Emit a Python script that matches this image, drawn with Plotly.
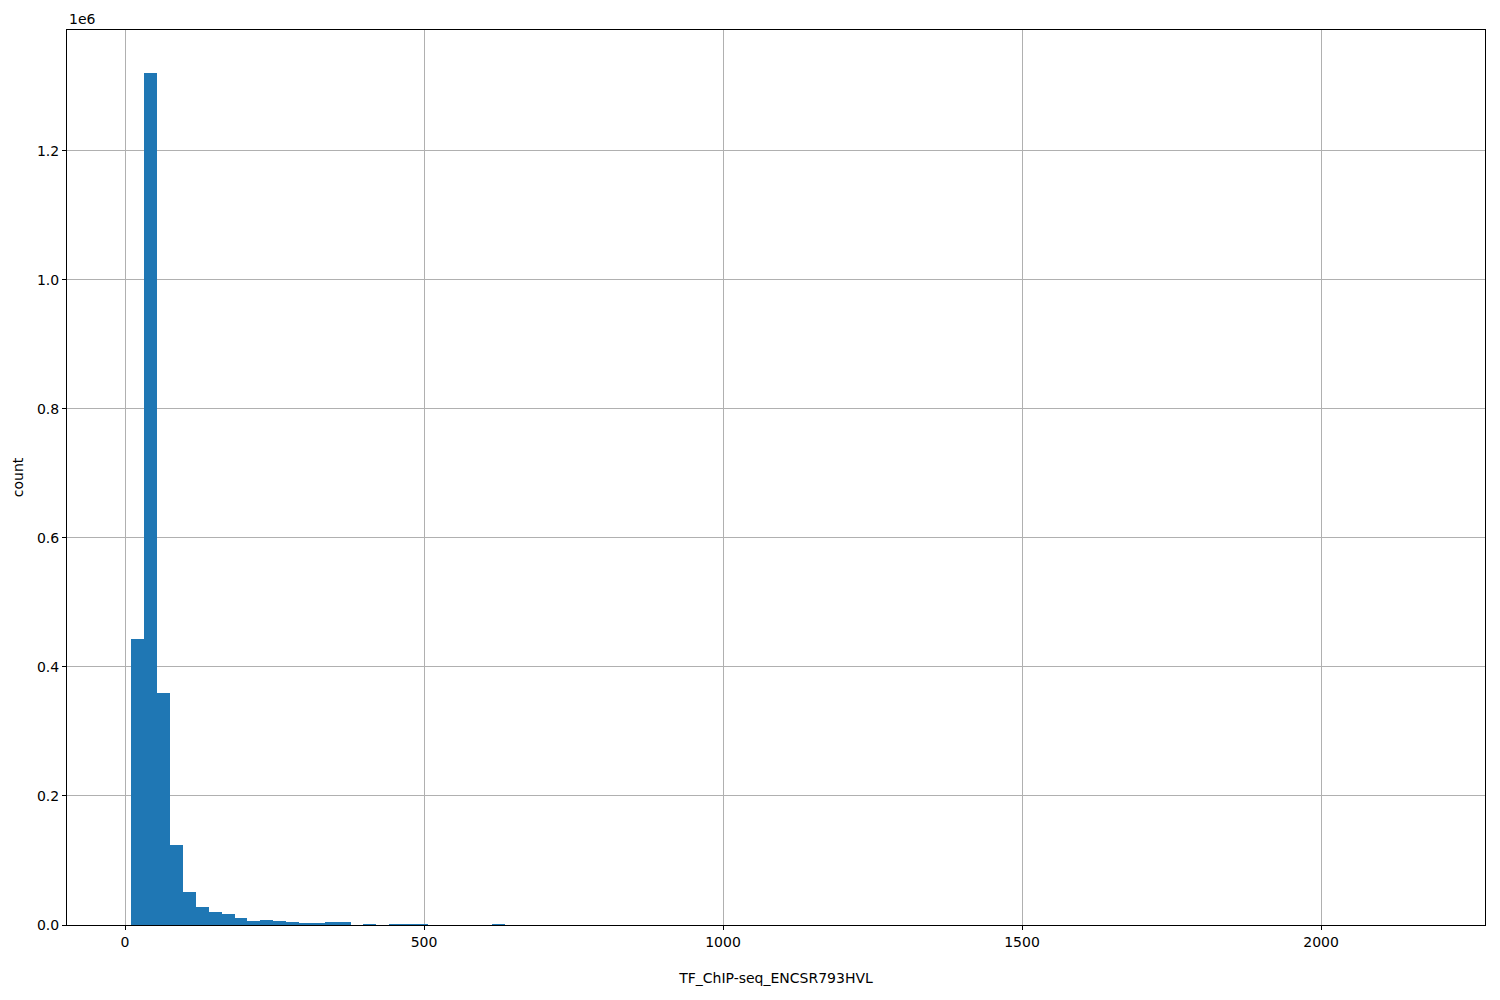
import plotly.graph_objects as go

# Histogram of TF_ChIP-seq_ENCSR793HVL (100 equal bins)
bin_start = 10.8
bin_end = 2166.4
n_bins = 100
counts = [
    443000, 1321000, 360000, 124000, 51000, 28000, 20000, 17000, 11000, 6200,
    7800, 6200, 4700, 3100, 3100, 4700, 4700, 0, 1500, 0,
    1500, 1500, 1500, 0, 0, 0, 0, 0, 1500, 0,
    0, 0, 0, 0, 0, 0, 0, 0, 0, 0,
    0, 0, 0, 0, 0, 0, 0, 0, 0, 0,
    0, 0, 0, 0, 0, 0, 0, 0, 0, 0,
    0, 0, 0, 0, 0, 0, 0, 0, 0, 0,
    0, 0, 0, 0, 0, 0, 0, 0, 0, 0,
    0, 0, 0, 0, 0, 0, 0, 0, 0, 0,
    0, 0, 0, 0, 0, 0, 0, 0, 0, 1,
]
x_ticks = [0, 500, 1000, 1500, 2000]
y_ticks = [0, 200000, 400000, 600000, 800000, 1000000, 1200000]
y_tick_labels = ["0.0", "0.2", "0.4", "0.6", "0.8", "1.0", "1.2"]
x_label = "TF_ChIP-seq_ENCSR793HVL"
y_label = "count"

width = (bin_end - bin_start) / n_bins
centers = [bin_start + (i + 0.5) * width for i in range(n_bins)]

span = bin_end - bin_start
x_range = [bin_start - 0.05 * span, bin_end + 0.05 * span]
y_range = [0, 1.05 * max(counts)]

fig = go.Figure(
    go.Bar(
        x=centers,
        y=counts,
        width=width,
        marker=dict(color="#1f77b4", line=dict(width=0)),
        hoverinfo="x+y",
    )
)

font = dict(family="DejaVu Sans", size=14, color="black")
axis_common = dict(
    showline=True,
    linecolor="black",
    linewidth=1,
    mirror=True,
    ticks="outside",
    ticklen=4,
    tickcolor="black",
    showgrid=True,
    gridcolor="#b0b0b0",
    gridwidth=1,
    zeroline=False,
    tickfont=font,
    automargin=False,
)

fig.update_layout(
    width=1500,
    height=1000,
    margin=dict(l=67, r=15, t=30, b=75),
    paper_bgcolor="white",
    plot_bgcolor="white",
    bargap=0,
    showlegend=False,
    font=font,
    xaxis=dict(
        range=x_range,
        tickvals=x_ticks,
        title=dict(text=x_label, font=font, standoff=24),
        **axis_common,
    ),
    yaxis=dict(
        range=y_range,
        tickvals=y_ticks,
        ticktext=y_tick_labels,
        title=dict(text=y_label, font=font, standoff=10),
        **axis_common,
    ),
    annotations=[
        dict(
            text="1e6",
            xref="paper",
            yref="paper",
            x=0,
            y=1,
            xanchor="left",
            yanchor="bottom",
            yshift=1,
            showarrow=False,
            font=font,
        )
    ],
)

fig.write_html(
    "out.html",
    config={"displayModeBar": False},
    post_script="document.body.style.margin='0';",
)
